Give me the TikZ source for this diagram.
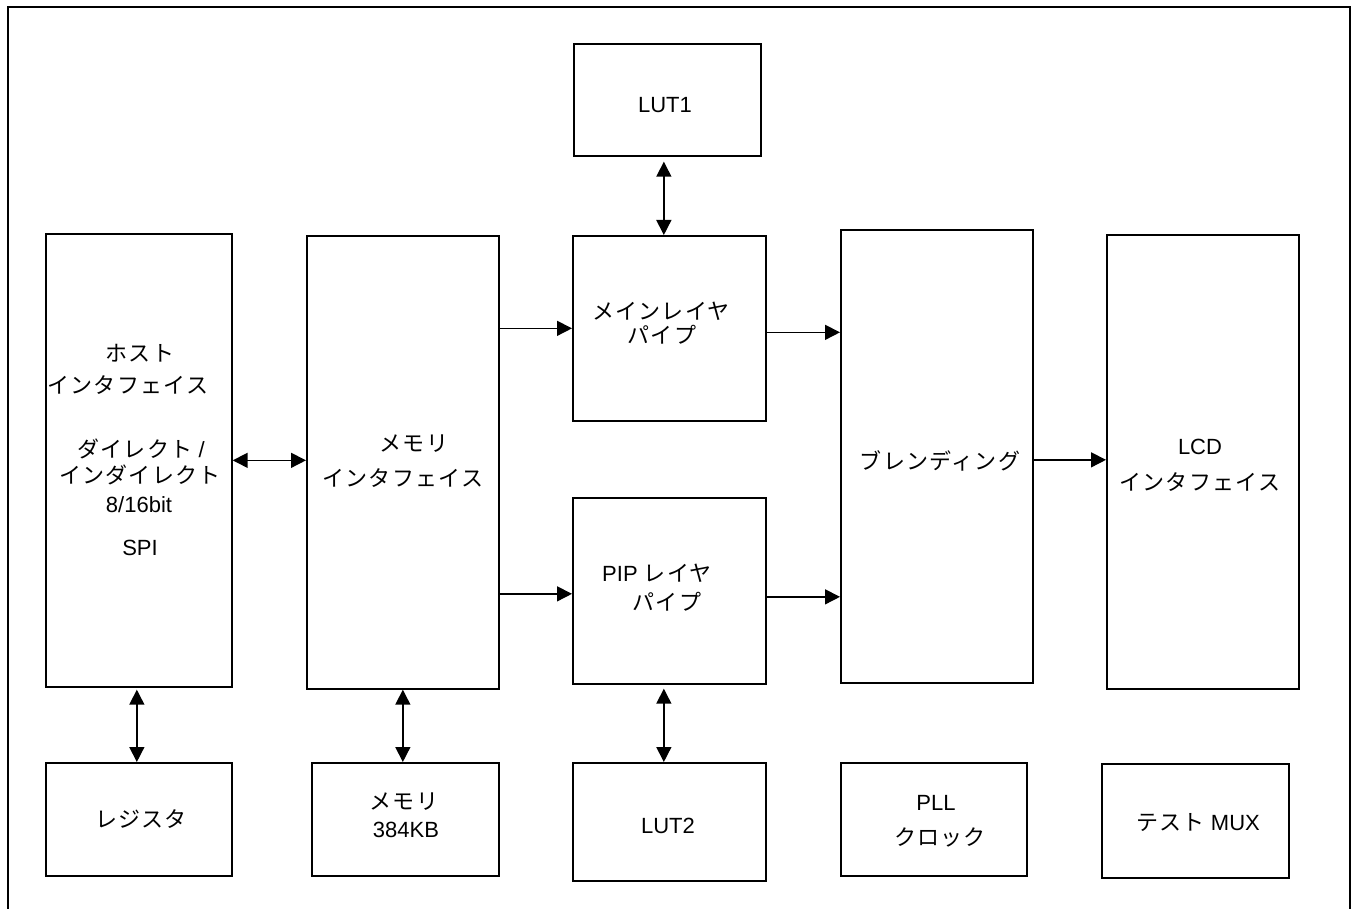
\documentclass[tikz,border=0pt]{standalone}
\usepackage{fontspec}
\setmainfont{Liberation Sans}
\newfontfamily\jp[LetterSpace=6]{Noto Sans CJK JP}
\usetikzlibrary{arrows.meta,calc}
\tikzset{
  blk/.style={draw, line width=1.7pt, inner sep=0pt, rectangle, anchor=north west},
  lbl/.style={inner sep=0pt, text height=15.8pt, text depth=0pt, anchor=center, font=\fontsize{22}{26}\selectfont},
  arr/.style={line width=1.5pt, -{Triangle[length=15pt,width=15pt]}},
  bi/.style={line width=1.5pt, {Triangle[length=15pt,width=15pt]}-{Triangle[length=15pt,width=15pt]}},
}
\newcommand{\blk}[5]{\node[blk, minimum width={#4-#2}, minimum height={#5-#3}] (#1) at (#2,#3) {};}
\begin{document}
\begin{tikzpicture}[x=1pt,y=-1pt]
\useasboundingbox (0,0) rectangle (1358,909);
\draw[line width=2.6pt] (8,915) -- (8,7) -- (1350,7) -- (1350,915);
% blocks
\blk{lut1}{573}{43}{760}{155}
\blk{host}{45}{233}{231}{686}
\blk{mif}{306}{235}{498}{688}
\blk{main}{572}{235}{765}{420}
\blk{pip}{572}{497}{765}{683}
\blk{blend}{840}{229}{1032}{682}
\blk{lcd}{1106}{234}{1298}{688}
\blk{reg}{45}{762}{231}{875}
\blk{mem}{311}{762}{498}{875}
\blk{lut2}{572}{762}{765}{880}
\blk{pll}{840}{762}{1026}{875}
\blk{mux}{1101}{763}{1288}{877}
% labels
\node[lbl] (tlut1) at (665,105) {LUT1};
\node[lbl] (th1) at (140,354) {\jp ホスト};
\node[lbl] (th2) at (128,386) {\jp インタフェイス};
\node[lbl] (th3) at (141,450) {{\jp ダイレクト} /};
\node[lbl] (th4) at (140,476) {\jp インダイレクト};
\node[lbl] (th5) at (139,505) {8/16bit};
\node[lbl] (th6) at (140,548) {SPI};
\node[lbl] (tm1) at (414,444) {\jp メモリ};
\node[lbl] (tm2) at (403,479) {\jp インタフェイス};
\node[lbl] (tp1) at (661,312) {\jp メインレイヤ};
\node[lbl] (tp2) at (662,336) {\jp パイプ};
\node[lbl] (tq1) at (657,574) {PIP {\jp レイヤ}};
\node[lbl] (tq2) at (667,603) {\jp パイプ};
\node[lbl] (tb) at (940,462) {\jp ブレンディング};
\node[lbl] (tl1) at (1200,447) {LCD};
\node[lbl] (tl2) at (1200,483) {\jp インタフェイス};
\node[lbl] (tr) at (141,820) {\jp レジスタ};
\node[lbl] (tme1) at (404,802) {\jp メモリ};
\node[lbl] (tme2) at (406,830) {384KB};
\node[lbl] (tlut2) at (668,826) {LUT2};
\node[lbl] (tpl1) at (936,803) {PLL};
\node[lbl] (tpl2) at (940,838) {\jp クロック};
\node[lbl] (tmux) at (1198,823) {{\jp テスト} MUX};
% connectors
\draw[bi] (host.east) -- (host.east -| mif.west);
\draw[arr] (mif.east |- main.west) -- (main.west);
\draw[arr] ([yshift=-3pt]mif.east |- pip.west) -- ([yshift=-3pt]pip.west);
\draw[arr] ([yshift=-4pt]main.east) -- ([yshift=-4pt]main.east -| blend.west);
\draw[arr] ([yshift=-6pt]pip.east) -- ([yshift=-6pt]pip.east -| blend.west);
\draw[arr] ([yshift=-3.5pt]blend.east) -- ([yshift=-3.5pt]blend.east -| lcd.west);
\draw[bi] ([xshift=-3.5pt,yshift=-5pt]lut1.south) -- ([xshift=-3.5pt]lut1.south |- main.north);
\draw[bi] (mif.south) -- (mif.south |- mem.north);
\draw[bi] ([xshift=-5.5pt,yshift=-4pt]pip.south) -- ([xshift=-5.5pt]pip.south |- lut2.north);
\draw[bi] ([xshift=-2pt,yshift=-2pt]host.south) -- ([xshift=-2pt]host.south |- reg.north);
\end{tikzpicture}
\end{document}
